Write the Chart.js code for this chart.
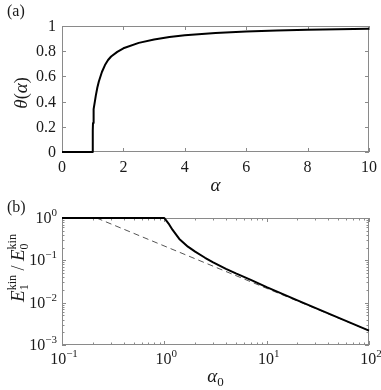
<!DOCTYPE html>
<html>
<head>
<meta charset="utf-8">
<script src="https://cdn.jsdelivr.net/npm/chart.js@4/dist/chart.umd.min.js"></script>
<style>
  html, body { margin: 0; padding: 0; background: #fff; }
  .panel { position: absolute; left: 0; width: 381px; height: 195px; }
  #pa { top: 0; }
  #pb { top: 195px; }
</style>
</head>
<body>
<div class="panel" id="pa"><canvas id="chartA" width="381" height="195"></canvas></div>
<div class="panel" id="pb"><canvas id="chartB" width="381" height="195"></canvas></div>
<script>
// panel (a): theta(alpha)
const alphaA = [0, 1, 1.001, 1.004, 1.01, 1.02, 1.04, 1.07, 1.1, 1.15, 1.2, 1.3, 1.4, 1.5, 1.6, 1.8, 2, 2.5, 3, 3.5, 4, 5, 6, 7, 8, 9, 10];
const thetaA = [0, 0, 0.09, 0.17, 0.23, 0.28, 0.34, 0.4, 0.445, 0.51, 0.56, 0.635, 0.69, 0.73, 0.758, 0.795, 0.823, 0.866, 0.893, 0.912, 0.927, 0.945, 0.957, 0.965, 0.971, 0.975, 0.979];
const xTicksA = [0, 2, 4, 6, 8, 10];
const yTicksA = [0, 0.2, 0.4, 0.6, 0.8, 1];
const xLabelsA = ["0", "2", "4", "6", "8", "10"];
const yLabelsA = ["0", "0.2", "0.4", "0.6", "0.8", "1"];

// panel (b): E1/E0 vs alpha0 (log-log)
const alpha0 = [0.1, 1, 1.05, 1.1, 1.2, 1.4, 1.7, 2, 2.5, 3, 4, 5, 7, 10, 20, 50, 100];
const ratioSolid = [1, 1, 0.86, 0.74, 0.53, 0.32, 0.21, 0.16, 0.115, 0.09, 0.063, 0.049, 0.0345, 0.0232, 0.0113, 0.00445, 0.00219];
const alphaDash = [0.218, 100];
const ratioDash = [1, 0.00218];
const xTicksB = [0.1, 1, 10, 100];
const yTicksB = [0.001, 0.01, 0.1, 1];
const xExpB = ["\u22121", "0", "1", "2"];
const yExpB = ["\u22123", "\u22122", "\u22121", "0"];

const SERIF = '"Liberation Serif"';
const TXT = "#1a1a1a";

function pts(xs, ys) {
  return xs.map((x, i) => ({ x, y: ys[i] }));
}

// draw a list of text runs; run.back puts the run under/over the previous one
function runsWidth(ctx, runs) {
  let x = 0, start = 0, end = 0;
  runs.forEach((r) => {
    ctx.font = r.font;
    const w = ctx.measureText(r.t).width;
    if (r.back) {
      end = Math.max(end, start + w);
      x = end;
    } else {
      start = x;
      end = x + w;
      x = end;
    }
  });
  return x;
}
function drawRuns(ctx, runs, x0, y0, align) {
  const total = runsWidth(ctx, runs);
  let x = align === "center" ? x0 - total / 2 : align === "right" ? x0 - total : x0;
  let start = x, end = x;
  ctx.textAlign = "left";
  ctx.textBaseline = "alphabetic";
  runs.forEach((r) => {
    ctx.font = r.font;
    const w = ctx.measureText(r.t).width;
    if (r.back) {
      ctx.fillText(r.t, start, y0 + (r.dy || 0));
      end = Math.max(end, start + w);
      x = end;
    } else {
      start = x;
      ctx.fillText(r.t, x, y0 + (r.dy || 0));
      end = x + w;
      x = end;
    }
  });
}

function tick(ctx, x1, y1, x2, y2) {
  ctx.beginPath();
  ctx.moveTo(x1, y1);
  ctx.lineTo(x2, y2);
  ctx.stroke();
}

function logMinors(min, max) {
  const out = [];
  for (let d = Math.floor(Math.log10(min)); d < Math.ceil(Math.log10(max)); d++) {
    for (let k = 2; k <= 9; k++) {
      const v = k * Math.pow(10, d);
      if (v > min && v < max) out.push(v);
    }
  }
  return out;
}

// box, inward ticks on all four sides, tick labels and titles
const framePlugin = {
  id: "frame",
  beforeDatasetsDraw(chart, args, opts) {
    const { ctx, chartArea: a, scales } = chart;
    ctx.save();
    ctx.strokeStyle = "#8a8a8a";
    ctx.lineWidth = 1;
    ctx.strokeRect(Math.round(a.left) + 0.5, Math.round(a.top) + 0.5,
      Math.round(a.right - a.left) - 1, Math.round(a.bottom - a.top) - 1);
    const put = (vals, len) => {
      vals.forEach((v) => {
        const x = Math.round(scales.x.getPixelForValue(v)) + 0.5;
        tick(ctx, x, a.bottom, x, a.bottom - len);
        tick(ctx, x, a.top, x, a.top + len);
      });
    };
    const putY = (vals, len) => {
      vals.forEach((v) => {
        const y = Math.round(scales.y.getPixelForValue(v)) + 0.5;
        tick(ctx, a.left, y, a.left + len, y);
        tick(ctx, a.right, y, a.right - len, y);
      });
    };
    put(opts.xTicks, 4);
    putY(opts.yTicks, 4);
    if (opts.log) {
      put(logMinors(scales.x.min, scales.x.max), 2.5);
      putY(logMinors(scales.y.min, scales.y.max), 2.5);
    }
    ctx.restore();
  },
  afterDraw(chart, args, opts) {
    const { ctx, chartArea: a, scales } = chart;
    ctx.save();
    ctx.fillStyle = TXT;
    const f = "16px " + SERIF;
    const fs = "11px " + SERIF;
    if (opts.log) {
      opts.xTicks.forEach((v, i) => {
        const x = scales.x.getPixelForValue(v);
        drawRuns(ctx, [{ t: "10", font: f }, { t: opts.xExp[i], font: fs, dy: -7 }], x + 2, a.bottom + 19, "center");
      });
      opts.yTicks.forEach((v, i) => {
        const y = scales.y.getPixelForValue(v);
        drawRuns(ctx, [{ t: "10", font: f }, { t: opts.yExp[i], font: fs, dy: -7 }], a.left - 5, y + 5, "right");
      });
    } else {
      ctx.font = f;
      ctx.textBaseline = "alphabetic";
      ctx.textAlign = "center";
      opts.xTicks.forEach((v, i) => {
        ctx.fillText(opts.xLabels[i], scales.x.getPixelForValue(v), a.bottom + 20);
      });
      ctx.textAlign = "right";
      opts.yTicks.forEach((v, i) => {
        ctx.fillText(opts.yLabels[i], a.left - 6, scales.y.getPixelForValue(v) + 5);
      });
    }
    // panel tag
    ctx.font = "16px " + SERIF;
    ctx.textAlign = "left";
    ctx.fillText(opts.tag, 7, opts.tagY);
    // x title
    const cx = (a.left + a.right) / 2;
    drawRuns(ctx, opts.xTitle, cx, opts.xTitleY, "center");
    // y title
    ctx.translate(opts.yTitleX, opts.yTitleC);
    ctx.rotate(-Math.PI / 2);
    drawRuns(ctx, opts.yTitle, 0, 0, "center");
    ctx.restore();
  },
};

const IT = "italic 19px " + SERIF;
const RM = "18px " + SERIF;
const SM = "12px " + SERIF;

function baseOptions(xScale, yScale, padTop, xHeight, frameOpts) {
  return {
    responsive: false,
    animation: false,
    layout: { padding: { top: padTop, right: 12, left: 0, bottom: 0 } },
    plugins: { legend: { display: false }, tooltip: { enabled: false }, frame: frameOpts },
    scales: {
      x: Object.assign(xScale, {
        grid: { display: false }, border: { display: false }, ticks: { display: false },
        afterFit(s) { s.height = xHeight; },
      }),
      y: Object.assign(yScale, {
        grid: { display: false }, border: { display: false }, ticks: { display: false },
        afterFit(s) { s.width = 62; },
      }),
    },
  };
}

new Chart(document.getElementById("chartA"), {
  type: "line",
  data: {
    datasets: [{
      data: pts(alphaA, thetaA),
      borderColor: "#000", borderWidth: 2, borderJoinStyle: "round",
      pointRadius: 0, tension: 0, clip: 3,
    }],
  },
  options: baseOptions(
    { type: "linear", min: 0, max: 10 },
    { type: "linear", min: 0, max: 1 },
    26, 43,
    {
      xTicks: xTicksA, yTicks: yTicksA, xLabels: xLabelsA, yLabels: yLabelsA, log: false,
      tag: "(a)", tagY: 16,
      xTitle: [{ t: "\u03b1", font: IT }], xTitleY: 191,
      yTitle: [{ t: "\u03b8", font: IT }, { t: "(", font: RM }, { t: "\u03b1", font: IT }, { t: ")", font: RM }],
      yTitleX: 27, yTitleC: 93,
    }
  ),
  plugins: [framePlugin],
});

new Chart(document.getElementById("chartB"), {
  type: "line",
  data: {
    datasets: [
      {
        data: pts(alpha0, ratioSolid),
        borderColor: "#000", borderWidth: 2, borderJoinStyle: "round",
        pointRadius: 0, tension: 0, clip: 3,
      },
      {
        data: pts(alphaDash, ratioDash),
        borderColor: "#555", borderWidth: 1, borderDash: [6, 4], pointRadius: 0, tension: 0,
      },
    ],
  },
  options: baseOptions(
    { type: "logarithmic", min: 0.1, max: 100 },
    { type: "logarithmic", min: 0.001, max: 1 },
    23, 45,
    {
      xTicks: xTicksB, yTicks: yTicksB, xExp: xExpB, yExp: yExpB, log: true,
      tag: "(b)", tagY: 17,
      xTitle: [{ t: "\u03b1", font: IT }, { t: "0", font: "13px " + SERIF, dy: 4 }], xTitleY: 187,
      yTitle: [
        { t: "E", font: IT }, { t: "1", font: SM, dy: 4 }, { t: "kin", font: SM, dy: -8, back: true },
        { t: " / ", font: RM },
        { t: "E", font: IT }, { t: "0", font: SM, dy: 4 }, { t: "kin", font: SM, dy: -8, back: true },
      ],
      yTitleX: 24, yTitleC: 73,
    }
  ),
  plugins: [framePlugin],
});
</script>
</body>
</html>
